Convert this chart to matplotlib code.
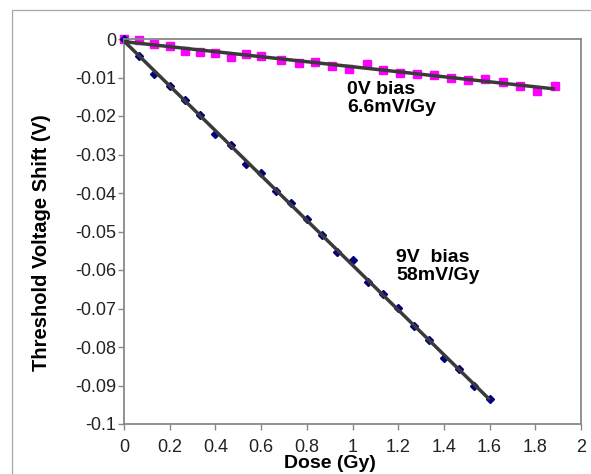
import numpy as np
import matplotlib.pyplot as plt
from matplotlib.patches import Rectangle

plt.rcParams['font.family'] = ['Liberation Sans', 'DejaVu Sans']

# 0V bias data (magenta squares)
dose_0v = [0, 0.067, 0.133, 0.2, 0.267, 0.333, 0.4, 0.467, 0.533, 0.6,
           0.687, 0.764, 0.838, 0.91, 0.986, 1.062, 1.132, 1.208, 1.284,
           1.358, 1.431, 1.504, 1.58, 1.657, 1.733, 1.809, 1.886]
shift_0v = [0, -0.0003, -0.0012, -0.0017, -0.0032, -0.0033, -0.0036, -0.0046,
            -0.0039, -0.0044, -0.0055, -0.0062, -0.0061, -0.0069, -0.0077,
            -0.0066, -0.0080, -0.0088, -0.0090, -0.0094, -0.0100, -0.0106,
            -0.0103, -0.0112, -0.0121, -0.0134, -0.0123]

# 9V bias data (navy diamonds)
dose_9v = [0, 0.067, 0.133, 0.2, 0.267, 0.333, 0.4, 0.467, 0.533, 0.6,
           0.667, 0.733, 0.8, 0.867, 0.933, 1.0, 1.067, 1.133, 1.2, 1.267,
           1.333, 1.4, 1.467, 1.533, 1.6]
shift_9v = [0, -0.0045, -0.0091, -0.0121, -0.0158, -0.0198, -0.0246, -0.0276,
            -0.0324, -0.0348, -0.0396, -0.0425, -0.0467, -0.0508, -0.0554,
            -0.0575, -0.0632, -0.0662, -0.0699, -0.0745, -0.0781, -0.0829,
            -0.0857, -0.0900, -0.0935]

xticks = [0, 0.2, 0.4, 0.6, 0.8, 1, 1.2, 1.4, 1.6, 1.8, 2]
xticklabels = ['0', '0.2', '0.4', '0.6', '0.8', '1', '1.2', '1.4', '1.6', '1.8', '2']
yticks = [0, -0.01, -0.02, -0.03, -0.04, -0.05, -0.06, -0.07, -0.08, -0.09, -0.1]
yticklabels = ['0', '-0.01', '-0.02', '-0.03', '-0.04', '-0.05', '-0.06',
               '-0.07', '-0.08', '-0.09', '-0.1']

fig = plt.figure(figsize=(5.91, 4.74), dpi=100)
ax = fig.add_axes([124/591, 1-424/474, (581-124)/591, (424-39)/474])

# outer frame of the chart area
fig.patches.append(Rectangle((12/591, -0.1), 1.2, 1 - 10/474 + 0.1,
                             transform=fig.transFigure, fill=False,
                             edgecolor='#a8a8a8', lw=0.9))

ax.plot(dose_0v, shift_0v, ls='none', marker='s', ms=6.2, color='#ff00ff',
        mec='#ff00ff', zorder=2, clip_on=False)
ax.plot(dose_9v, shift_9v, ls='none', marker='D', ms=4, color='#000080',
        mec='#000080', zorder=2, clip_on=False)

# linear trendlines
for xs, ys in [(dose_0v, shift_0v), (dose_9v, shift_9v)]:
    p = np.polyfit(xs, ys, 1)
    xx = np.array([0, max(xs)])
    ax.plot(xx, np.polyval(p, xx), color='#3a3a3a', lw=2.5, zorder=3,
            solid_capstyle='butt')

ax.text(0.975, -0.0108, '0V bias\n6.6mV/Gy', fontsize=14, fontweight='bold',
        va='top', ha='left', linespacing=1.1)
ax.text(1.19, -0.0545, '9V  bias\n58mV/Gy', fontsize=14, fontweight='bold',
        va='top', ha='left', linespacing=1.1)

ax.set_xlim(0, 2)
ax.set_ylim(-0.1, 0)
ax.set_xticks(xticks)
ax.set_xticklabels(xticklabels)
ax.set_yticks(yticks)
ax.set_yticklabels(yticklabels)
ax.tick_params(axis='both', direction='out', length=4.5, width=1, color='#888888',
               labelsize=13, labelcolor='#222222')
ax.tick_params(axis='x', pad=6)
ax.tick_params(axis='y', pad=1)
for s in ax.spines.values():
    s.set_color('#888888')
    s.set_linewidth(1.3)

ax.set_xlabel('Dose (Gy)', fontsize=14, fontweight='bold')
ax.xaxis.set_label_coords(0.451, -0.08)
ax.set_ylabel('Threshold Voltage Shift (V)', fontsize=14.5, fontweight='bold')
ax.yaxis.set_label_coords(-0.16, 0.47)

fig.savefig('out.png', dpi=100)
